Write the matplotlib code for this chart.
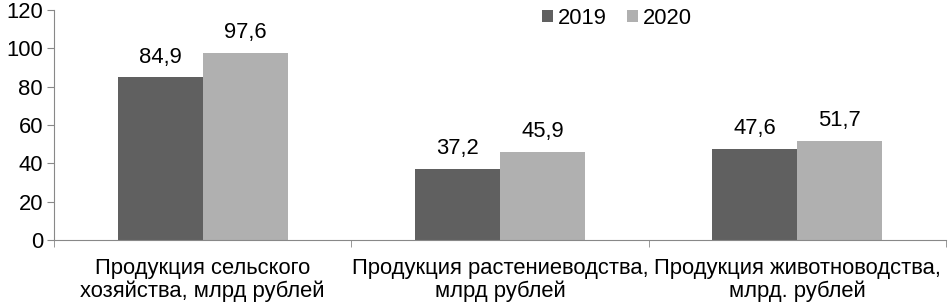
import matplotlib
matplotlib.use("Agg")
import matplotlib.pyplot as plt
import numpy as np

categories = ["Продукция сельского\nхозяйства, млрд рублей",
              "Продукция растениеводства,\nмлрд рублей",
              "Продукция животноводства,\nмлрд. рублей"]
series_names = ["2019", "2020"]
values_2019 = [84.9, 37.2, 47.6]
values_2020 = [97.6, 45.9, 51.7]
yticks = [0, 20, 40, 60, 80, 100, 120]

plt.rcParams['font.family'] = ['Liberation Sans', 'DejaVu Sans']
FS = 15.8

fig = plt.figure(figsize=(9.51, 3.05), dpi=100)
ax = fig.add_axes([54/951, 65/305, 892/951, 230/305])

x = np.arange(len(categories))
w = 0.286
colors = ["#606060", "#b0b0b0"]
b1 = ax.bar(x - w/2, values_2019, w, color=colors[0], label=series_names[0])
b2 = ax.bar(x + w/2, values_2020, w, color=colors[1], label=series_names[1])

for bars, vals in ((b1, values_2019), (b2, values_2020)):
    for r, v in zip(bars, vals):
        ax.text(r.get_x() + r.get_width()/2, v + 5.0, f"{v:.1f}".replace('.', ','),
                ha='center', va='bottom', fontsize=FS)

ax.set_xlim(-0.5, len(categories) - 0.5)
ax.set_ylim(0, 120)
ax.set_yticks(yticks)
ax.set_yticklabels([str(t) for t in yticks], fontsize=FS)
ax.set_xticks(x)
ax.set_xticklabels(categories, fontsize=FS, linespacing=1.08)
ax.tick_params(axis='x', which='major', length=0, pad=13)
ax.set_xticks(np.arange(-0.5, len(categories)), minor=True)
ax.tick_params(axis='x', which='minor', length=5, color='#888888')
ax.tick_params(axis='y', length=5, color='#888888', pad=3)

for s in ['top', 'right']:
    ax.spines[s].set_visible(False)
for s in ['left', 'bottom']:
    ax.spines[s].set_color('#888888')

ax.legend(loc='center', bbox_to_anchor=(617/951, 1 - 18.5/305), bbox_transform=fig.transFigure,
          ncol=2, frameon=False, fontsize=FS, handlelength=0.5, handleheight=0.5,
          handletextpad=0.25, columnspacing=0.9, borderpad=0)

fig.savefig("out.png", dpi=100)
